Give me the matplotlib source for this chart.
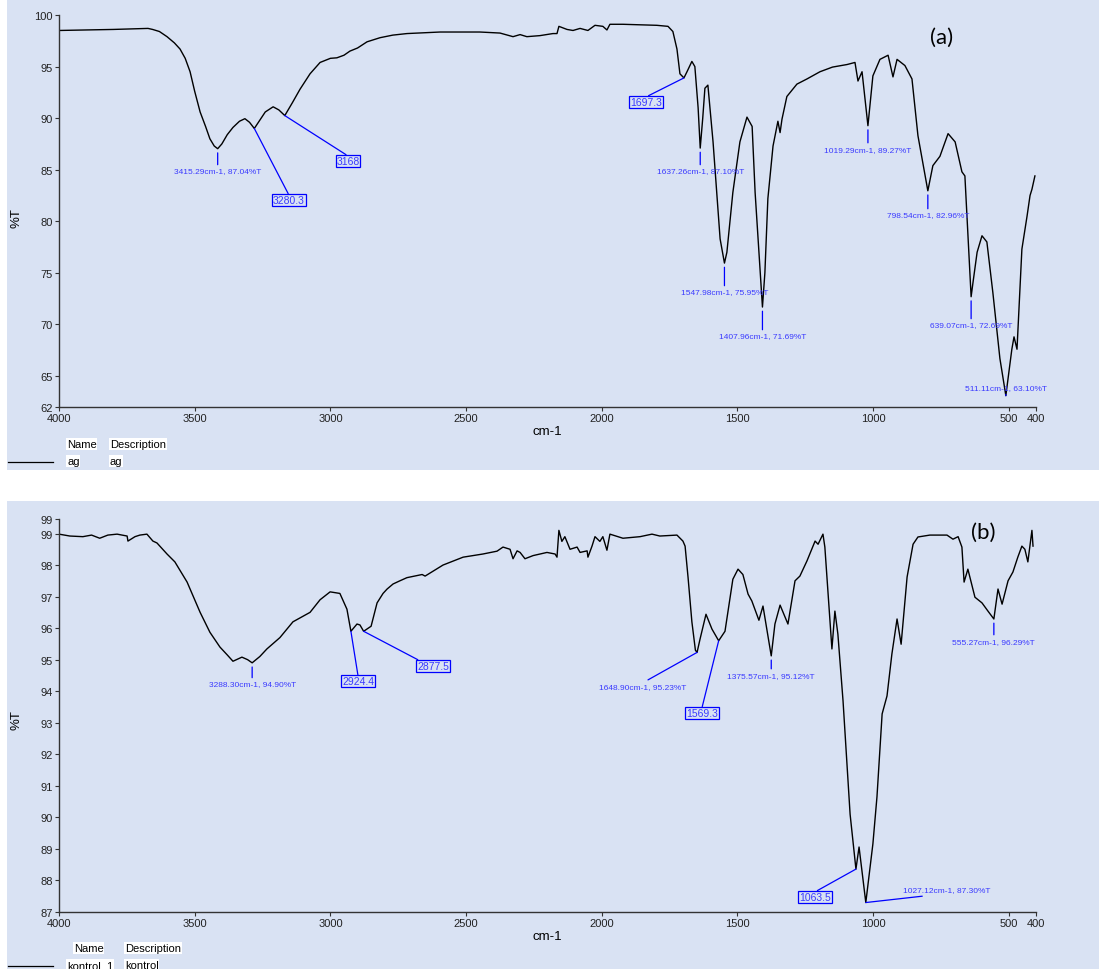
import numpy as np
import matplotlib.pyplot as plt
from matplotlib.patches import Rectangle

plt.rcParams['font.family'] = ['Liberation Sans', 'DejaVu Sans']

# FTIR spectrum of sample "ag"
ag_wn = [
    4000, 3900, 3800, 3672, 3655, 3630, 3602, 3575, 3554, 3535, 3517,
    3500, 3480, 3460, 3444, 3428, 3415.29, 3400, 3380, 3359, 3335,
    3315, 3298, 3280.3, 3260, 3240, 3211, 3190, 3168, 3140, 3112,
    3075, 3038, 3000, 2976, 2950, 2928, 2900, 2865, 2817, 2770, 2718,
    2596, 2449, 2375, 2327, 2301, 2276, 2228, 2180, 2165, 2158,
    2128, 2106, 2080, 2051, 2025, 1996, 1981, 1970, 1922, 1797,
    1756, 1738, 1723, 1712, 1697.3, 1686, 1668, 1657, 1645, 1637.26,
    1628, 1620, 1609, 1590, 1575, 1564, 1547.98, 1539, 1517, 1491,
    1465, 1446, 1435, 1424, 1407.96, 1399, 1388, 1369, 1351, 1343,
    1336, 1318, 1281, 1244, 1196, 1150, 1096, 1067, 1056, 1041, 1019.29,
    1001, 975, 945, 927, 912, 883, 857, 835, 798.54, 780,
    754, 724, 698, 673, 662, 639.07, 632, 617, 599, 581,
    559, 533, 511.11, 489, 481, 470, 452, 433, 422, 415,
    404]
ag_t = [
    98.5, 98.55, 98.6, 98.7, 98.6, 98.4, 97.9, 97.3, 96.7, 95.8, 94.5,
    92.6, 90.6, 89.2, 88.0, 87.3, 87.04, 87.5, 88.4, 89.1, 89.7,
    89.95, 89.6, 89.0, 89.8, 90.6, 91.1, 90.8, 90.25, 91.5, 92.8,
    94.3, 95.4, 95.8, 95.85, 96.1, 96.5, 96.8, 97.4, 97.8, 98.05, 98.2,
    98.35, 98.35, 98.25, 97.9, 98.1, 97.9, 98.0, 98.2, 98.2, 98.9,
    98.6, 98.5, 98.7, 98.5, 99.0, 98.9, 98.55, 99.1, 99.1, 99.0,
    98.9, 98.4, 96.7, 94.3, 93.9, 94.5, 95.5, 95.0, 91.0, 87.10,
    90.0, 92.9, 93.2, 87.7, 82.2, 78.3, 75.95, 77.0, 82.8, 87.7,
    90.1, 89.2, 82.8, 78.3, 71.69, 75.0, 82.2, 87.3, 89.7, 88.6,
    89.9, 92.1, 93.3, 93.8, 94.5, 94.95, 95.2, 95.4, 93.6, 94.5, 89.27,
    94.1, 95.7, 96.1, 94.0, 95.7, 95.1, 93.8, 88.3, 82.96, 85.4,
    86.3, 88.5, 87.7, 84.8, 84.4, 72.69, 74.1, 77.0, 78.6, 78.0,
    73.1, 66.7, 63.10, 67.6, 68.8, 67.6, 77.3, 80.5, 82.5, 83.1,
    84.4]

# FTIR spectrum of sample "kontrol_1"
kon_wn = [
    4000, 3960, 3912, 3880, 3850, 3820, 3786, 3749, 3746, 3720,
    3702, 3676, 3654, 3639, 3602, 3573, 3528, 3480, 3444, 3407,
    3380, 3359, 3326, 3305, 3288.30, 3260, 3234, 3186, 3138, 3075,
    3038, 3001, 2965, 2939, 2924.4, 2902, 2891, 2877.5, 2850, 2828,
    2806, 2791, 2769, 2744, 2718, 2662, 2651, 2585, 2511, 2438,
    2386, 2364, 2338, 2327, 2312, 2301, 2283, 2253, 2202, 2172,
    2165, 2158, 2147, 2136, 2117, 2091, 2080, 2054, 2051, 2036,
    2025, 2007, 1996, 1981, 1970, 1922, 1859, 1815, 1786, 1723,
    1701, 1693, 1682, 1668, 1655, 1648.90, 1638, 1616, 1594, 1569.3,
    1546, 1517, 1498, 1480, 1461, 1447, 1421, 1406, 1375.57, 1362,
    1343, 1314, 1288, 1270, 1244, 1214, 1203, 1185, 1178, 1152,
    1141, 1130, 1111, 1085, 1063.5, 1052, 1027.12, 1001, 986, 967,
    949, 931, 912, 897, 875, 853, 835, 791, 728, 706,
    687, 673, 665, 651, 625, 599, 577, 555.27, 540, 525,
    503, 485, 467, 452, 441, 430, 415, 411]
kon_t = [
    98.98, 98.92, 98.9, 98.95, 98.85, 98.95, 98.98, 98.92, 98.76, 98.9,
    98.95, 98.98, 98.76, 98.7, 98.35, 98.1, 97.46, 96.5, 95.87, 95.4,
    95.15, 94.95, 95.08, 95.0, 94.90, 95.1, 95.34, 95.7, 96.2, 96.5,
    96.9, 97.15, 97.1, 96.6, 95.9, 96.13, 96.1, 95.9, 96.06, 96.8,
    97.1, 97.24, 97.4, 97.5, 97.6, 97.7, 97.65, 98.0, 98.25, 98.35,
    98.44, 98.57, 98.5, 98.2, 98.45, 98.4, 98.2, 98.3, 98.4, 98.35,
    98.25, 99.1, 98.75, 98.9, 98.5, 98.57, 98.4, 98.45, 98.25, 98.6,
    98.9, 98.75, 98.9, 98.47, 98.98, 98.85, 98.9, 98.98, 98.92, 98.95,
    98.76, 98.6, 97.6, 96.2, 95.3, 95.23, 95.65, 96.44, 95.97, 95.6,
    95.9, 97.55, 97.87, 97.7, 97.08, 96.86, 96.25, 96.7, 95.12, 96.13,
    96.73, 96.13, 97.5, 97.65, 98.13, 98.76, 98.66, 98.98, 98.57, 95.34,
    96.54, 95.81, 93.69, 90.1, 88.36, 89.06, 87.30, 89.16, 90.65, 93.28,
    93.85, 95.18, 96.29, 95.49, 97.62, 98.66, 98.89, 98.95, 98.95, 98.82,
    98.9, 98.57, 97.46, 97.87, 96.98, 96.8, 96.54, 96.29, 97.24, 96.76,
    97.5, 97.78, 98.25, 98.6, 98.5, 98.1, 99.1, 98.6]

x_ticks = [4000, 3500, 3000, 2500, 2000, 1500, 1000, 500, 400]
ag_yticks = [62, 65, 70, 75, 80, 85, 90, 95, 100]
kon_yticks = [87, 88, 89, 90, 91, 92, 93, 94, 95, 96, 97, 98, 99]

# labelled peaks: wavenumber -> (text x, text y, anchor of leader on text)
ag_peaks = {
    3415.29: (3415.29, 84.88, (0.5, 1)),
    1637.26: (1637.26, 84.88, (0.5, 1)),
    1547.98: (1547.98, 73.15, (0.5, 1)),
    1407.96: (1407.96, 68.88, (0.5, 1)),
    1019.29: (1019.29, 87.0, (0.5, 1)),
    798.54: (798.54, 80.61, (0.5, 1)),
    639.07: (639.07, 69.95, (0.5, 1)),
    511.11: (511.11, 63.84, (0.5, 0)),
}
ag_bands = {
    3280.3: (3153, 82.07, (0.5, 1)),
    3168: (2935, 85.85, (0.5, 1)),
    1697.3: (1837, 91.57, (0.5, 1)),
}
kon_peaks = {
    3288.30: (3288.30, 94.23, (0.5, 1)),
    1648.90: (1848, 94.16, (0.5, 1)),
    1375.57: (1375.57, 94.51, (0.5, 1)),
    1027.12: (728, 87.70, (0.5, 0)),
    555.27: (555.27, 95.59, (0.5, 1)),
}
kon_bands = {
    2924.4: (2898, 94.32, (0.5, 1)),
    2877.5: (2622, 94.80, (0.1, 1)),
    1569.3: (1631, 93.31, (0.5, 1)),
    1063.5: (1214, 87.48, (0.5, 1)),
}

W, H = 1099, 970
panel_bg = '#d9e2f3'
label_blue = '#3a3aff'

fig = plt.figure(figsize=(W / 100, H / 100), dpi=100)
fig.patches.append(Rectangle((7 / W, 1 - 471 / H), 1, 471 / H,
                             transform=fig.transFigure, fc=panel_bg, ec='none', zorder=-10))
fig.patches.append(Rectangle((7 / W, 0), 1, 1 - 502 / H,
                             transform=fig.transFigure, fc=panel_bg, ec='none', zorder=-10))

ax1 = fig.add_axes([59 / W, 1 - 408 / H, 977 / W, 392 / H])
ax2 = fig.add_axes([59 / W, 1 - 913 / H, 977 / W, 393 / H])


def style_axes(ax, ylim, yticks, ylabels):
    ax.set_facecolor('none')
    ax.set_xlim(4000, 400)
    ax.set_ylim(*ylim)
    ax.set_xticks(x_ticks)
    ax.set_xticklabels([str(v) for v in x_ticks])
    ax.set_yticks(yticks)
    ax.set_yticklabels(ylabels)
    for s in ['top', 'right']:
        ax.spines[s].set_visible(False)
    for s in ['left', 'bottom']:
        ax.spines[s].set_color('#333333')
        ax.spines[s].set_linewidth(1.0)
    ax.tick_params(length=3, width=0.8, color='#333333', labelsize=8, pad=1.5,
                   labelcolor='#222222')


def annotate(ax, wn, t, marks, boxed):
    for peak, (tx, ty, rel) in marks.items():
        y = float(np.interp(peak, wn[::-1], t[::-1]))
        if boxed:
            ax.annotate(f'{peak:g}', xy=(peak, y), xytext=(tx, ty),
                        ha='center', va='center', fontsize=7.5, color=label_blue,
                        bbox=dict(boxstyle='square,pad=0.08', fc='none', ec='blue', lw=0.9),
                        arrowprops=dict(arrowstyle='-', color='blue', lw=0.9,
                                        shrinkA=0, shrinkB=0, relpos=rel))
        else:
            gap = 0 if tx != peak else 3
            ax.annotate(f'{peak:.2f}cm-1, {y:.2f}%T', xy=(peak, y), xytext=(tx, ty),
                        ha='center', va='center', fontsize=6, color=label_blue,
                        arrowprops=dict(arrowstyle='-', color='blue', lw=0.9,
                                        shrinkA=0, shrinkB=gap, relpos=rel))


ax1.plot(ag_wn, ag_t, color='black', lw=1.0)
style_axes(ax1, (62, 100), ag_yticks, [str(v) for v in ag_yticks])
annotate(ax1, ag_wn, ag_t, ag_peaks, False)
annotate(ax1, ag_wn, ag_t, ag_bands, True)

ax2.plot(kon_wn, kon_t, color='black', lw=1.0)
kon_top = 99.46
style_axes(ax2, (87, kon_top), kon_yticks + [kon_top],
           [str(v) for v in kon_yticks] + ['99'])
annotate(ax2, kon_wn, kon_t, kon_peaks, False)
annotate(ax2, kon_wn, kon_t, kon_bands, True)

# panel tags
fig.text(942 / W, 1 - 38 / H, '(a)', fontsize=16, family=['Lato', 'DejaVu Sans'],
         ha='center', va='center')
fig.text(983 / W, 1 - 533 / H, '(b)', fontsize=16, family=['Lato', 'DejaVu Sans'],
         ha='center', va='center')

# axis titles
for ytop, ymid in [(432, 218), (937, 720)]:
    fig.text(547 / W, 1 - ytop / H, 'cm-1', fontsize=9.5, ha='center', va='center')
    fig.text(17 / W, 1 - ymid / H, '%T', fontsize=9.5, rotation=90,
             ha='center', va='center')

# legend tables under each plot
white = dict(boxstyle='square,pad=0.05', fc='white', ec='none')
legends = [
    (445, 462, [(67, 'Name'), (110, 'Description')], [(67, 'ag'), (110, 'ag')]),
    (949, 966, [(74, 'Name'), (125, 'Description')], [(67, 'kontrol_1'), (125, 'kontrol')]),
]
for yh, yr, heads, row in legends:
    for x, s in heads:
        fig.text(x / W, 1 - yh / H, s, fontsize=8, ha='left', va='center', bbox=white)
    for x, s in row:
        fig.text(x / W, 1 - yr / H, s, fontsize=8, ha='left', va='center', bbox=white)
    fig.add_artist(plt.Line2D([8 / W, 53 / W], [1 - (yr + 1) / H] * 2,
                              transform=fig.transFigure, color='black', lw=0.9))

fig.savefig('out.png', dpi=100, facecolor='white')
